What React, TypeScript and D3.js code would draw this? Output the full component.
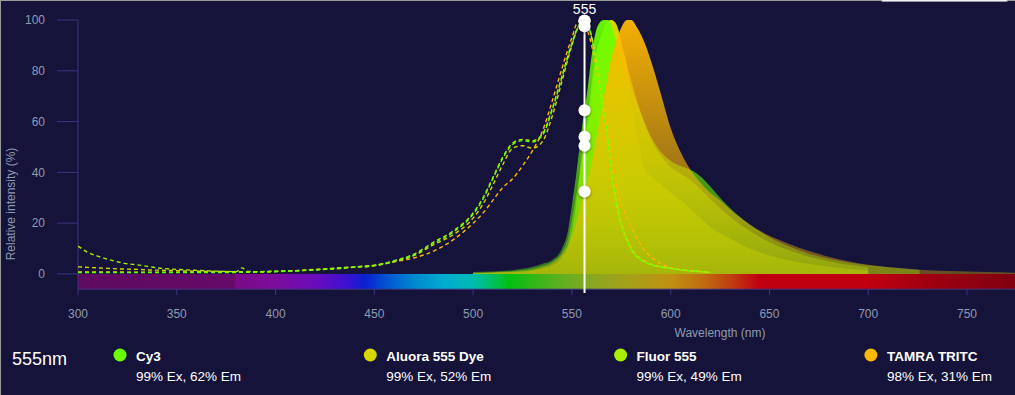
import React from "react";
import * as d3 from "d3";

const W = 1015;
const H = 395;
const SELECTED_LABEL = "555";
const SELECTED_TEXT = "555nm";
const CURSOR_NM = 556.4;

const NAMES = ["Cy3", "Aluora 555 Dye", "Fluor 555", "TAMRA TRITC"];
const COLORS = ["#6aff00", "#d8d800", "#aaee00", "#ffb800"];
const EX_PCT = [99, 99, 99, 98];
const EM_PCT = [62, 52, 49, 31];

const X_TICKS = [300, 350, 400, 450, 500, 550, 600, 650, 700, 750];
const Y_TICKS = [0, 20, 40, 60, 80, 100];

const SPECTRUM_WL = [300, 379, 380, 400, 420, 435, 445, 455, 470, 485, 500, 510, 518, 530, 545, 560, 580, 600, 615, 630, 645, 700, 730, 775];
const SPECTRUM_COLORS = ["#5e0a60", "#660a68", "#7a0a88", "#7c0c9c", "#6a0cbc", "#4010d0", "#0a20d0", "#0050d0", "#0088d0", "#00acd0", "#00bcb0", "#00c060", "#00c010", "#30b818", "#60b020", "#88a820", "#a8a018", "#c09010", "#c07010", "#c04010", "#c00010", "#c00010", "#a00010", "#800010"];

const EX_WL = [300, 305, 310, 315, 320, 325, 330, 335, 340, 350, 360, 370, 380, 383, 386, 390, 400, 410, 420, 430, 440, 450, 460, 470, 480, 490, 500, 505, 510, 515, 520, 525, 530, 535, 540, 545, 550, 553, 556, 558, 560, 563, 566, 568, 570, 572, 574, 576, 578, 581, 585, 588, 593, 598, 605, 615, 620];
const CY3_EX = [0.6, 0.6, 0.6, 0.6, 0.6, 0.6, 0.6, 0.6, 0.6, 0.6, 0.6, 0.6, 0.6, 0.7, 0.7, 0.7, 0.9, 1.2, 1.6, 2.1, 2.7, 3.3, 5, 7.5, 12, 16.5, 23.5, 29.5, 37.5, 45.5, 51, 52.5, 52, 54.5, 64.5, 77.5, 90.5, 97, 100, 98.5, 93, 80.5, 64.5, 54.5, 40.5, 30.5, 22.5, 17, 13, 8.5, 5.5, 4.3, 3, 2.4, 1.6, 1, 0.6];
const ALUORA_EX = [2.8, 2.6, 2.4, 2.2, 2, 1.9, 1.8, 1.6, 1.5, 1.3, 1.1, 1, 0.9, 0.9, 0.9, 0.9, 1, 1.2, 1.6, 2, 2.6, 3.2, 4.8, 7.2, 11.5, 15.5, 22, 27.5, 35, 43, 49.5, 50.5, 49.5, 52, 62, 76, 90, 97, 100, 98.5, 93.5, 81, 65, 55, 41, 31, 23, 17.5, 13.5, 9, 6, 4.6, 3.2, 2.5, 1.7, 1, 0.6];
const FLUOR_EX = [11, 8.5, 7, 5.8, 4.8, 4, 3.6, 3, 2.4, 1.8, 1.4, 1.1, 0.9, 2.4, 1, 0.9, 1.1, 1.3, 1.7, 2.2, 2.8, 3.4, 5.2, 7.8, 12.5, 17, 24, 30, 38, 46, 51.5, 53, 52.5, 55, 65, 78, 91, 97, 100, 98.5, 93, 80, 64, 54, 40, 30, 22, 17, 13, 8.5, 5.5, 4.3, 3, 2.4, 1.6, 1, 0.6];
const TAMRA_EX = [0.8, 0.8, 0.8, 0.8, 0.8, 0.7, 0.7, 0.7, 0.7, 0.7, 0.7, 0.7, 0.7, 0.7, 0.7, 0.8, 1, 1.3, 1.8, 2.3, 2.8, 3.5, 4.8, 6.3, 9, 13.5, 20, 24, 29, 34, 37.5, 42.5, 48.5, 56, 68, 81, 93, 99, 98, 95.5, 90, 78, 65.5, 57, 47, 38, 30, 26, 22, 17, 11.5, 8.3, 5, 3, 1.6, 0.9, 0.5];

const EM_WL = [500, 510, 520, 530, 535, 540, 545, 548, 550, 552, 555, 558, 560, 563, 566, 568, 570, 572, 574, 576, 578, 580, 583, 586, 590, 595, 600, 605, 610, 615, 620, 625, 630, 640, 650, 660, 670, 680, 690, 700, 710, 726, 740, 760, 775];
const CY3_EM = [0.8, 1, 1.5, 2.8, 4, 5.5, 10, 17, 27, 38, 57, 73, 86, 97.5, 100, 100, 98, 92, 86, 81, 77, 73, 67, 61, 54, 48, 44.5, 42.5, 41, 38.5, 34.5, 30, 26, 19.5, 14.5, 10.8, 8, 6, 4.5, 3.4, 2.6, 1.6, null, null, null];
const ALUORA_EM = [0.3, 0.5, 0.8, 1.5, 2.2, 3.2, 6.5, 11, 17, 26, 47, 62, 75, 89, 96.5, 99, 100, 99, 95, 88, 81, 68, 55, 43, 38.5, 35.5, 32, 29, 25.5, 22, 18.5, 16, 14, 10, 7.3, 5.3, 3.9, 2.8, 2, 1.5, null, null, null, null, null];
const FLUOR_EM = [0.5, 0.8, 1.2, 2.2, 3.2, 4.8, 8.5, 14, 21, 30, 44, 58, 70, 86, 96, 99.5, 100, 98, 94, 88, 82, 76, 68, 61, 53, 46.5, 42, 39.5, 37, 33.5, 29.5, 26, 22.5, 17, 12.5, 9.3, 6.8, 5, 3.6, 2.6, null, null, null, null, null];
const TAMRA_EM = [0.3, 0.5, 0.8, 1.5, 2.5, 4, 7.5, 11, 15, 19.5, 28.5, 37, 44, 56, 69, 77, 85, 90.5, 95, 98.5, 100, 100, 97, 92.5, 84, 71, 57.5, 48, 41, 36, 32, 29, 25.5, 19.5, 15, 11.8, 9, 6.8, 5, 3.6, 2.7, 1.7, 1.2, 0.8, 0.5];

const EX_SERIES = [CY3_EX, ALUORA_EX, FLUOR_EX, TAMRA_EX];
const EM_SERIES = [CY3_EM, ALUORA_EM, FLUOR_EM, TAMRA_EM];
const EM_ORDER = [2, 1, 0, 3];
const EX_ORDER = [3, 1, 2, 0];

const FONT = "'Liberation Sans', Arial, sans-serif";
const BG = "#15133a";
const AXIS = "#3d3580";
const TICK_TEXT = "#8f9bb0";

function interp(xs: number[], ys: (number | null)[], x: number): number {
  for (let i = 0; i < xs.length - 1; i++) {
    if (x >= xs[i] && x <= xs[i + 1]) {
      const a = ys[i] ?? 0;
      const b = ys[i + 1] ?? 0;
      return a + ((b - a) * (x - xs[i])) / (xs[i + 1] - xs[i]);
    }
  }
  return 0;
}

export default function App() {
  const x = d3.scaleLinear().domain([300, 774.3]).range([78, 1015]);
  const y = d3.scaleLinear().domain([-6, 100]).range([289.2, 20]);

  const area = (vals: (number | null)[]) =>
    d3
      .area<number>()
      .defined((_, i) => vals[i] != null)
      .x((d) => x(d))
      .y0(y(0))
      .y1((_, i) => y(vals[i] as number))
      .curve(d3.curveMonotoneX)(EM_WL) as string;

  const line = (vals: number[]) =>
    d3
      .line<number>()
      .x((d) => x(d))
      .y((_, i) => y(vals[i]))
      .curve(d3.curveMonotoneX)(EX_WL) as string;

  const cx = x(CURSOR_NM);
  const dotVals = [
    ...EX_SERIES.map((s) => interp(EX_WL, s, CURSOR_NM)),
    ...EM_SERIES.map((s) => interp(EM_WL, s, CURSOR_NM)),
  ];

  const x0 = x(300);
  const x1 = x(774.3);

  return (
    <div style={{ position: "absolute", left: 0, top: 0, width: W, height: H }}>
      <svg width={W} height={H} style={{ display: "block" }}>
        <defs>
          <linearGradient id="spec" gradientUnits="userSpaceOnUse" x1={x0} x2={x1} y1={0} y2={0}>
            {SPECTRUM_WL.map((wl, i) => (
              <stop key={i} offset={(x(wl) - x0) / (x1 - x0)} stopColor={SPECTRUM_COLORS[i]} />
            ))}
          </linearGradient>
          {COLORS.map((c, i) => (
            <linearGradient key={i} id={`emg${i}`} gradientUnits="userSpaceOnUse" x1={0} x2={0} y1={y(100)} y2={y(0)}>
              <stop offset={0} stopColor={c} stopOpacity={0.95} />
              <stop offset={1} stopColor={c} stopOpacity={0.35} />
            </linearGradient>
          ))}
          <clipPath id="plot">
            <rect x={78} y={0} width={W - 78} height={y(0) - 0} />
          </clipPath>
          <filter id="shadow" x="-50%" y="-50%" width="200%" height="200%">
            <feDropShadow dx={0} dy={1} stdDeviation={1.5} floodColor="#000" floodOpacity={0.5} />
          </filter>
        </defs>

        <rect x={0} y={0} width={W} height={H} fill="#9a9a9a" />
        <rect x={1} y={1} width={W - 1} height={H - 1} fill={BG} />
        <rect x={881} y={-6} width={127} height={7.5} rx={2} fill="#f2f2f2" stroke="#9a9aa8" strokeWidth={0.8} />

        {/* spectrum bar */}
        <rect x={x0} y={y(0)} width={x1 - x0} height={y(-6) - y(0)} fill="url(#spec)" />

        {/* axes */}
        <line x1={78} x2={78} y1={y(100)} y2={y(-6)} stroke={AXIS} strokeWidth={1} />
        <line x1={78} x2={W} y1={y(-6)} y2={y(-6)} stroke={AXIS} strokeWidth={1} />
        {Y_TICKS.map((t) => (
          <g key={t}>
            <line x1={57} x2={78} y1={y(t)} y2={y(t)} stroke={AXIS} strokeWidth={1} />
            <text x={45} y={y(t)} dy="0.35em" textAnchor="end" fill={TICK_TEXT} fontSize={12} fontFamily={FONT}>
              {t}
            </text>
          </g>
        ))}
        {X_TICKS.map((t) => (
          <g key={t}>
            <line x1={x(t)} x2={x(t)} y1={y(-6)} y2={y(-6) + 6} stroke={AXIS} strokeWidth={1} />
            <text x={x(t)} y={318} textAnchor="middle" fill={TICK_TEXT} fontSize={12} fontFamily={FONT}>
              {t}
            </text>
          </g>
        ))}
        <text x={720} y={337} textAnchor="middle" fill={TICK_TEXT} fontSize={12} fontFamily={FONT}>
          Wavelength (nm)
        </text>
        <text
          transform={`translate(15, 204) rotate(-90)`}
          textAnchor="middle"
          fill={TICK_TEXT}
          fontSize={12}
          fontFamily={FONT}
        >
          Relative intensity (%)
        </text>

        <g clipPath="url(#plot)">
          {EM_ORDER.map((i) => (
            <path key={`em${i}`} d={area(EM_SERIES[i])} fill={`url(#emg${i})`} stroke="none" />
          ))}
          {EX_ORDER.map((i) => (
            <path
              key={`ex${i}`}
              d={line(EX_SERIES[i])}
              fill="none"
              stroke={COLORS[i]}
              strokeWidth={1.4}
              strokeDasharray="4,3"
            />
          ))}
        </g>

        {/* cursor */}
        <line x1={cx} x2={cx} y1={y(100)} y2={293} stroke="#fff" strokeWidth={2} />
        <text x={cx} y={14} textAnchor="middle" fill="#fff" fontSize={14} fontFamily={FONT}>
          {SELECTED_LABEL}
        </text>
        {dotVals.map((v, i) => (
          <circle key={i} cx={cx} cy={y(v)} r={6} fill="#fff" filter="url(#shadow)" />
        ))}

        {/* legend */}
        <text x={12} y={365} fill="#fff" fontSize={18} fontFamily={FONT}>
          {SELECTED_TEXT}
        </text>
        {NAMES.map((n, i) => {
          const lx = 120 + i * 250.3;
          return (
            <g key={n}>
              <circle cx={lx} cy={355} r={6.5} fill={COLORS[i]} />
              <text x={lx + 16} y={361} fill="#fff" fontSize={13.5} fontWeight="bold" fontFamily={FONT}>
                {n}
              </text>
              <text x={lx + 16} y={381} fill="#fff" fontSize={13.5} fontFamily={FONT}>
                {`${EX_PCT[i]}% Ex, ${EM_PCT[i]}% Em`}
              </text>
            </g>
          );
        })}
      </svg>
    </div>
  );
}
